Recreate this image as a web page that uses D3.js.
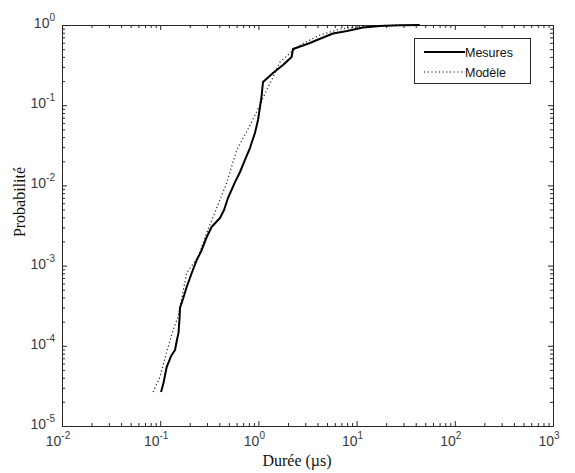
<!DOCTYPE html>
<html>
<head>
<meta charset="utf-8">
<script src="https://cdn.jsdelivr.net/npm/d3@7"></script>
<style>
  html, body { margin: 0; padding: 0; background: #fff; }
  svg { display: block; }
</style>
</head>
<body>
<svg id="chart" width="575" height="473"></svg>
<script>
// ---- data ----
const measX = [0.102, 0.108, 0.1164, 0.129, 0.1416, 0.148, 0.1535, 0.1575, 0.159, 0.1706, 0.186, 0.2095, 0.2357, 0.265, 0.2975, 0.334, 0.406, 0.447, 0.49, 0.578, 0.65, 0.73, 0.82, 0.922, 0.991, 1.038, 1.075, 1.114, 1.408, 1.78, 2.18, 2.25, 3.354, 3.95, 5.75, 7.98, 11.6, 17.3, 27.7, 44];
const measY = [2.65e-5, 3.44e-5, 5.44e-5, 7.46e-5, 8.87e-5, 1.18e-4, 1.44e-4, 2.22e-4, 2.96e-4, 3.83e-4, 5.41e-4, 8.09e-4, 1.175e-3, 1.566e-3, 2.27e-3, 3.03e-3, 3.92e-3, 4.93e-3, 6.97e-3, 0.011, 0.01469, 0.02074, 0.02925, 0.045, 0.0654, 0.095, 0.1265, 0.1946, 0.252, 0.317, 0.399, 0.502, 0.596, 0.65, 0.783, 0.842, 0.931, 0.972, 0.991, 0.9995];
const modelX = [0.0845, 0.0995, 0.1164, 0.135, 0.152, 0.186, 0.243, 0.2975, 0.376, 0.475, 0.601, 0.76, 0.962, 1.215, 1.366, 1.66, 2.1, 2.85, 4.24, 6.78, 10.8, 19.5, 30];
const modelY = [2.65e-5, 4.08e-5, 8.37e-5, 1.57e-4, 2.29e-4, 8.09e-4, 1.28e-3, 2.55e-3, 5.23e-3, 0.0107, 0.0276, 0.0467, 0.083, 0.1547, 0.206, 0.346, 0.448, 0.591, 0.75, 0.891, 0.958, 0.991, 0.999];

const xMajorExp = [-2, -1, 0, 1, 2, 3];
const yMajorExp = [-5, -4, -3, -2, -1, 0];
const seriesNames = ["Mesures", "Modèle"];
const xLabel = "Durée (µs)";
const yLabel = "Probabilité";

// ---- layout ----
const svg = d3.select("#chart");
const L = 62, R = 553, T = 25, B = 426;
const x = d3.scaleLog().domain([1e-2, 1e3]).range([L, R]);
const y = d3.scaleLog().domain([1e-5, 1]).range([B, T]);

const xMajor = xMajorExp.map(e => Math.pow(10, e));
const yMajor = yMajorExp.map(e => Math.pow(10, e));
function minors(exps) {
  const out = [];
  for (let i = 0; i < exps.length - 1; i++)
    for (let k = 2; k <= 9; k++) out.push(k * Math.pow(10, exps[i]));
  return out;
}
const xMinor = minors(xMajorExp);
const yMinor = minors(yMajorExp);

const axisColor = "#262626";
function styleAxis(g) {
  g.selectAll("path").attr("stroke", axisColor).attr("stroke-width", 1);
  g.selectAll("line").attr("stroke", axisColor).attr("stroke-width", 1);
  g.selectAll("text").remove();
}

svg.append("rect").attr("x", L).attr("y", T).attr("width", R - L).attr("height", B - T).attr("fill", "#fff");

[[d3.axisBottom, B], [d3.axisTop, T]].forEach(([ax, pos]) => {
  svg.append("g").attr("transform", `translate(0,${pos})`)
    .call(ax(x).tickValues(xMajor).tickSize(-5).tickSizeOuter(0).tickFormat(""))
    .call(styleAxis);
  svg.append("g").attr("transform", `translate(0,${pos})`)
    .call(ax(x).tickValues(xMinor).tickSize(-3).tickSizeOuter(0).tickFormat(""))
    .call(g => { g.select(".domain").remove(); styleAxis(g); });
});
[[d3.axisLeft, L], [d3.axisRight, R]].forEach(([ax, pos]) => {
  svg.append("g").attr("transform", `translate(${pos},0)`)
    .call(ax(y).tickValues(yMajor).tickSize(-5).tickSizeOuter(0).tickFormat(""))
    .call(styleAxis);
  svg.append("g").attr("transform", `translate(${pos},0)`)
    .call(ax(y).tickValues(yMinor).tickSize(-3).tickSizeOuter(0).tickFormat(""))
    .call(g => { g.select(".domain").remove(); styleAxis(g); });
});

// tick labels with superscripts
const labFont = "'Liberation Sans', Arial, sans-serif";
const labColor = "#3a3a3a";
const xl = svg.append("g").selectAll("text").data(xMajorExp).join("text")
  .attr("x", d => x(Math.pow(10, d)) - 4)
  .attr("y", 446)
  .attr("text-anchor", "middle")
  .attr("font-family", labFont).attr("font-size", 14).attr("fill", labColor);
xl.append("tspan").text("10");
xl.append("tspan").attr("dy", -7).attr("font-size", 10).text(d => d);

const yl = svg.append("g").selectAll("text").data(yMajorExp).join("text")
  .attr("x", 55)
  .attr("y", d => y(Math.pow(10, d)) + 3)
  .attr("text-anchor", "end")
  .attr("font-family", labFont).attr("font-size", 14).attr("fill", labColor);
yl.append("tspan").text("10");
yl.append("tspan").attr("dy", -7).attr("font-size", 10).text(d => d);

// axis titles
svg.append("text").attr("x", 297).attr("y", 466).attr("text-anchor", "middle")
  .attr("font-family", "'Liberation Serif', 'Times New Roman', serif").attr("font-size", 16)
  .attr("fill", "#111").text(xLabel);
svg.append("text").attr("transform", "translate(25,202) rotate(-90)").attr("text-anchor", "middle")
  .attr("font-family", "'Liberation Serif', 'Times New Roman', serif").attr("font-size", 16)
  .attr("fill", "#111").text(yLabel);

// lines
const line = d3.line().x(d => x(d[0])).y(d => y(d[1]));
const measData = measX.map((v, i) => [v, measY[i]]);
const modelData = modelX.map((v, i) => [v, modelY[i]]);

svg.append("path").datum(modelData).attr("d", line)
  .attr("fill", "none").attr("stroke", "#222").attr("stroke-width", 1.2)
  .attr("stroke-dasharray", "1.2,2.5");
svg.append("path").datum(measData).attr("d", line)
  .attr("fill", "none").attr("stroke", "#000").attr("stroke-width", 2)
  .attr("stroke-linejoin", "round");

// legend
const lg = svg.append("g");
lg.append("rect").attr("x", 414.5).attr("y", 38.5).attr("width", 116).attr("height", 45)
  .attr("fill", "#fff").attr("stroke", axisColor).attr("stroke-width", 1);
const styles = [{ w: 2, dash: null }, { w: 1.2, dash: "1.2,2.5" }];
seriesNames.forEach((name, i) => {
  const yy = 52 + i * 20;
  lg.append("line").attr("x1", 424).attr("x2", 465).attr("y1", yy).attr("y2", yy)
    .attr("stroke", "#000").attr("stroke-width", styles[i].w)
    .attr("stroke-dasharray", styles[i].dash);
  lg.append("text").attr("x", 465).attr("y", yy + 4.5)
    .attr("font-family", labFont).attr("font-size", 12.5).attr("fill", "#111").text(name);
});
</script>
</body>
</html>
